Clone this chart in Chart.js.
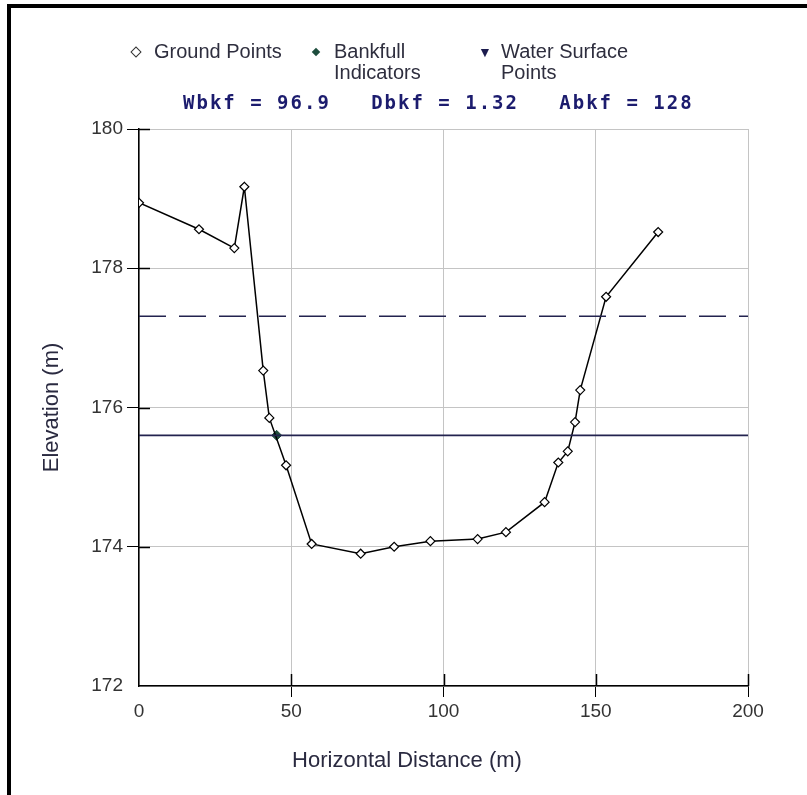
<!DOCTYPE html>
<html lang="en">
<head>
    <meta charset="UTF-8">
    <title>Bankfull Cross Section</title>
    <style>
        body {
            margin: 0;
            background: #ffffff;
            font-family: "Liberation Sans", Arial, sans-serif;
        }
        .wrap {
            position: relative;
            width: 807px;
            height: 795px;
            overflow: hidden;
        }
        .frame {
            position: absolute;
            left: 7px;
            top: 4px;
            width: 900px;
            height: 900px;
            border-top: 4px solid #000;
            border-left: 4px solid #000;
        }
        canvas {
            position: absolute;
            left: 0;
            top: 0;
        }
        .lg {
            position: absolute;
            font-size: 20px;
            line-height: 21px;
            color: #2e2e3e;
            white-space: nowrap;
        }
        .mk {
            position: absolute;
            width: 6px;
            height: 6px;
            transform: rotate(45deg);
        }
        .stats {
            position: absolute;
            left: 183px;
            top: 91px;
            font-family: "DejaVu Sans Mono", monospace;
            font-weight: bold;
            font-size: 19px;
            line-height: 22px;
            letter-spacing: 2px;
            color: #1c1c6e;
            white-space: pre;
        }
        .xtitle {
            position: absolute;
            left: 207px;
            width: 400px;
            top: 747px;
            text-align: center;
            font-size: 22px;
            line-height: 26px;
            color: #2a2a40;
        }
    </style>
</head>
<body>
    <div class="wrap">
        <div class="frame"></div>
        <canvas id="xs-chart" width="807" height="795"></canvas>

        <!-- legend -->
        <div class="mk" style="left:132px; top:48px; border:1px solid #333; background:#fff;"></div>
        <div class="lg" style="left:154px; top:41px;">Ground Points</div>
        <div class="mk" style="left:313px; top:49px; background:#1e4d3d;"></div>
        <div class="lg" style="left:334px; top:41px;">Bankfull<br>Indicators</div>
        <div class="lg" style="left:478px; top:42px; font-size:14px; color:#1c1c4e;">&#9660;</div>
        <div class="lg" style="left:501px; top:41px;">Water Surface<br>Points</div>

        <div class="stats" id="stats"></div>
        <div class="xtitle">Horizontal Distance (m)</div>
    </div>

    <script src="https://cdn.jsdelivr.net/npm/chart.js"></script>
    <script>
        // ground survey points
        const groundX = [0, 19.7, 31.3, 34.6, 40.8, 42.8, 48.3, 56.7, 72.8, 83.8, 95.7, 111.2, 120.5, 133.2, 137.7, 140.8, 143.2, 144.9, 153.4, 170.5];
        const groundY = [178.94, 178.56, 178.29, 179.17, 176.53, 175.85, 175.17, 174.04, 173.90, 174.00, 174.08, 174.11, 174.21, 174.64, 175.21, 175.37, 175.79, 176.25, 177.59, 178.52];

        // bankfull indicator point
        const bankfullX = [45.2];
        const bankfullY = [175.60];

        // horizontal lines: bankfull stage and flood-prone level
        const lineX = [0, 200];
        const bankfullStage = 175.60;
        const floodLevel = 177.31;

        const xTicks = [0, 50, 100, 150, 200];
        const yTicks = [172, 174, 176, 178, 180];

        const statNames = ['Wbkf', 'Dbkf', 'Abkf'];
        const statValues = ['96.9', '1.32', '128'];

        document.getElementById('stats').textContent =
            statNames.map((n, i) => n + ' = ' + statValues[i]).join('   ');

        const toPoints = (xs, ys) => xs.map((x, i) => ({ x: x, y: ys[i] }));

        // short tick marks on the inside of the two axes
        const innerTicks = {
            id: 'innerTicks',
            afterDraw(chart) {
                const ctx = chart.ctx;
                const xs = chart.scales.x, ys = chart.scales.y;
                ctx.save();
                ctx.strokeStyle = '#000';
                ctx.lineWidth = 1.5;
                ctx.beginPath();
                yTicks.slice(1).forEach(v => {
                    const p = Math.round(ys.getPixelForValue(v)) + 0.5;
                    ctx.moveTo(xs.left, p);
                    ctx.lineTo(xs.left + 11, p);
                });
                xTicks.slice(1).forEach(v => {
                    const p = Math.round(xs.getPixelForValue(v)) + 0.5;
                    ctx.moveTo(p, ys.bottom);
                    ctx.lineTo(p, ys.bottom - 12);
                });
                ctx.stroke();
                ctx.restore();
            }
        };

        new Chart(document.getElementById('xs-chart').getContext('2d'), {
            type: 'scatter',
            data: {
                datasets: [
                    {
                        label: 'Flood level',
                        data: toPoints(lineX, [floodLevel, floodLevel]),
                        showLine: true,
                        borderColor: '#23234f',
                        borderWidth: 1.5,
                        borderDash: [27, 13],
                        pointRadius: 0
                    },
                    {
                        label: 'Bankfull stage',
                        data: toPoints(lineX, [bankfullStage, bankfullStage]),
                        showLine: true,
                        borderColor: '#23234f',
                        borderWidth: 1.8,
                        pointRadius: 0
                    },
                    {
                        label: 'Ground Points',
                        data: toPoints(groundX, groundY),
                        showLine: true,
                        borderColor: '#000',
                        borderWidth: 1.5,
                        pointStyle: 'rectRot',
                        pointRadius: 4.5,
                        pointBackgroundColor: '#fff',
                        pointBorderColor: '#000',
                        pointBorderWidth: 1.2
                    },
                    {
                        label: 'Bankfull Indicators',
                        data: toPoints(bankfullX, bankfullY),
                        showLine: false,
                        pointStyle: 'rectRot',
                        pointRadius: 5,
                        pointBackgroundColor: '#1e4d3d',
                        pointBorderColor: '#1e4d3d'
                    }
                ]
            },
            options: {
                responsive: false,
                animation: false,
                layout: { padding: { top: 129, right: 59, left: 0, bottom: 0 } },
                plugins: {
                    legend: { display: false },
                    tooltip: { enabled: false }
                },
                scales: {
                    x: {
                        type: 'linear',
                        min: xTicks[0],
                        max: xTicks[xTicks.length - 1],
                        afterBuildTicks: s => { s.ticks = xTicks.map(v => ({ value: v })); },
                        afterFit: s => { s.height = 109; },
                        ticks: { color: '#333', font: { size: 19 }, padding: 3 },
                        grid: {
                            color: '#c4c4c4',
                            tickLength: 11,
                            tickColor: c => c.index === 0 ? 'rgba(0,0,0,0)' : '#000'
                        },
                        border: { color: '#000', width: 1.5 }
                    },
                    y: {
                        type: 'linear',
                        min: yTicks[0],
                        max: yTicks[yTicks.length - 1],
                        afterBuildTicks: s => { s.ticks = yTicks.map(v => ({ value: v })); },
                        afterFit: s => { s.width = 139; },
                        ticks: { color: '#333', font: { size: 19 }, padding: 4 },
                        grid: {
                            color: '#c4c4c4',
                            tickLength: 12,
                            tickColor: c => c.index === 0 ? 'rgba(0,0,0,0)' : '#000'
                        },
                        border: { color: '#000', width: 1.5 },
                        title: {
                            display: true,
                            text: 'Elevation (m)',
                            color: '#2a2a40',
                            font: { size: 22 },
                            padding: { top: 39, bottom: 39 }
                        }
                    }
                }
            },
            plugins: [innerTicks]
        });
    </script>
</body>
</html>
